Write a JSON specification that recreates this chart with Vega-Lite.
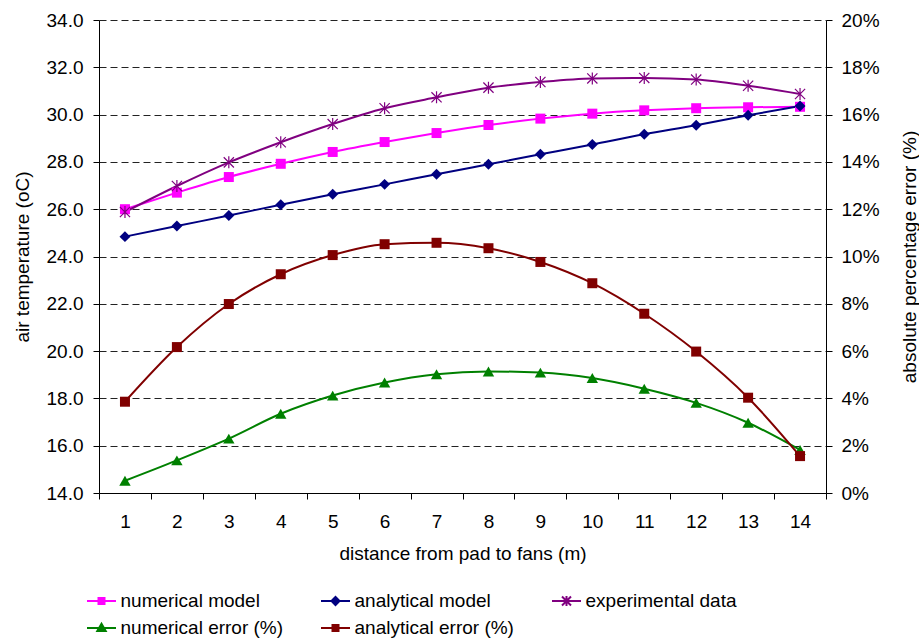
{
  "$schema": "https://vega.github.io/schema/vega-lite/v6.json",
  "width": 727,
  "height": 473,
  "autosize": {"type": "none"},
  "padding": {"left": 99, "top": 20, "right": 93, "bottom": 146},
  "background": "white",
  "config": {
    "view": {"stroke": null},
    "font": "Liberation Sans",
    "axis": {
      "labelFont": "Liberation Sans",
      "titleFont": "Liberation Sans",
      "labelFontSize": 19,
      "titleFontSize": 19,
      "titleFontWeight": "normal",
      "labelColor": "#000",
      "titleColor": "#000",
      "domainColor": "#000",
      "tickColor": "#000",
      "tickSize": 6,
      "domainWidth": 1,
      "tickWidth": 1
    },
    "legend": {
      "labelFont": "Liberation Sans",
      "labelFontSize": 19,
      "labelColor": "#000",
      "labelLimit": 400
    }
  },
  "data": {
    "values": [
      {"x": 1, "numerical model": 26.0, "analytical model": 24.84, "experimental data": 25.88, "numerical error (%)": 0.52, "analytical error (%)": 3.86},
      {"x": 2, "numerical model": 26.7, "analytical model": 25.29, "experimental data": 26.98, "numerical error (%)": 1.38, "analytical error (%)": 6.17},
      {"x": 3, "numerical model": 27.36, "analytical model": 25.73, "experimental data": 27.98, "numerical error (%)": 2.3, "analytical error (%)": 7.99},
      {"x": 4, "numerical model": 27.92, "analytical model": 26.19, "experimental data": 28.83, "numerical error (%)": 3.35, "analytical error (%)": 9.25},
      {"x": 5, "numerical model": 28.42, "analytical model": 26.63, "experimental data": 29.6, "numerical error (%)": 4.12, "analytical error (%)": 10.06},
      {"x": 6, "numerical model": 28.84, "analytical model": 27.05, "experimental data": 30.27, "numerical error (%)": 4.67, "analytical error (%)": 10.52},
      {"x": 7, "numerical model": 29.22, "analytical model": 27.48, "experimental data": 30.73, "numerical error (%)": 5.02, "analytical error (%)": 10.58},
      {"x": 8, "numerical model": 29.56, "analytical model": 27.9, "experimental data": 31.14, "numerical error (%)": 5.14, "analytical error (%)": 10.35},
      {"x": 9, "numerical model": 29.83, "analytical model": 28.32, "experimental data": 31.38, "numerical error (%)": 5.09, "analytical error (%)": 9.77},
      {"x": 10, "numerical model": 30.04, "analytical model": 28.74, "experimental data": 31.53, "numerical error (%)": 4.86, "analytical error (%)": 8.87},
      {"x": 11, "numerical model": 30.18, "analytical model": 29.17, "experimental data": 31.55, "numerical error (%)": 4.41, "analytical error (%)": 7.58},
      {"x": 12, "numerical model": 30.27, "analytical model": 29.55, "experimental data": 31.48, "numerical error (%)": 3.81, "analytical error (%)": 5.98},
      {"x": 13, "numerical model": 30.31, "analytical model": 29.97, "experimental data": 31.22, "numerical error (%)": 2.97, "analytical error (%)": 4.03},
      {"x": 14, "numerical model": 30.33, "analytical model": 30.36, "experimental data": 30.87, "numerical error (%)": 1.82, "analytical error (%)": 1.56}
    ]
  },
  "encoding": {
    "x": {
      "field": "x",
      "type": "ordinal",
      "scale": {"type": "band", "paddingInner": 0, "paddingOuter": 0},
      "axis": {
        "title": "distance from pad to fans (m)",
        "labelAngle": 0,
        "tickBand": "extent",
        "grid": false,
        "labelPadding": 13,
        "titlePadding": 13
      }
    }
  },
  "layer": [
    {
      "transform": [
        {"fold": ["numerical model", "analytical model", "experimental data"], "as": ["series", "value"]}
      ],
      "encoding": {
        "y": {
          "field": "value",
          "type": "quantitative",
          "scale": {"domain": [14, 34], "nice": false, "zero": false},
          "axis": {
            "title": "air temperature (oC)",
            "orient": "left",
            "values": [14, 16, 18, 20, 22, 24, 26, 28, 30, 32, 34],
            "format": ".1f",
            "labelPadding": 10,
            "titlePadding": 14,
            "grid": true,
            "gridColor": "#222",
            "gridDash": [7, 4],
            "gridWidth": 1
          }
        },
        "color": {
          "field": "series",
          "type": "nominal",
          "scale": {
            "domain": ["numerical model", "analytical model", "experimental data", "numerical error (%)", "analytical error (%)"],
            "range": ["#FF00FF", "#000080", "#800080", "#008000", "#800000"]
          },
          "legend": {
            "title": null,
            "orient": "none",
            "legendX": -8.5,
            "legendY": 570,
            "direction": "horizontal",
            "columns": 3,
            "columnPadding": 33,
            "rowPadding": 6,
            "padding": 0,
            "symbolSize": 400,
            "labelOffset": 8,
            "encode": {
              "symbols": {
                "update": {
                  "shape": {"signal": "datum.value === 'numerical model' || datum.value === 'analytical error (%)' ? 'M-1.45,0H1.45M-0.3,-0.3H0.3V0.3H-0.3Z' : datum.value === 'analytical model' ? 'M-1.45,0H1.45M-0.4,0L0,-0.4L0.4,0L0,0.4Z' : datum.value === 'experimental data' ? 'M-1.45,0H1.45M0,-0.5V0.5M-0.45,-0.45L0.45,0.45M-0.45,0.45L0.45,-0.45' : 'M-1.45,0H1.45M-0.42,0.3L0,-0.42L0.42,0.3Z'"},
                  "fill": {"signal": "scale('color', datum.value)"},
                  "stroke": {"signal": "scale('color', datum.value)"},
                  "strokeWidth": {"value": 2},
                  "size": {"value": 400},
                  "opacity": {"value": 1}
                }
              }
            }
          }
        }
      },
      "layer": [
        {"mark": {"type": "line", "interpolate": "monotone", "strokeWidth": 2}},
        {
          "transform": [{"filter": "datum.series === 'numerical model'"}],
          "mark": {"type": "point", "shape": "square", "filled": true, "size": 100, "opacity": 1}
        },
        {
          "transform": [{"filter": "datum.series === 'analytical model'"}],
          "mark": {"type": "point", "shape": "diamond", "filled": true, "size": 120, "opacity": 1}
        },
        {
          "transform": [{"filter": "datum.series === 'experimental data'"}],
          "mark": {"type": "point", "shape": "M0,-1V1M-0.85,-0.85L0.85,0.85M-0.85,0.85L0.85,-0.85", "filled": false, "size": 144, "strokeWidth": 1.2, "opacity": 1}
        }
      ]
    },
    {
      "transform": [
        {"fold": ["numerical error (%)", "analytical error (%)"], "as": ["series", "value"]}
      ],
      "encoding": {
        "y": {
          "field": "value",
          "type": "quantitative",
          "scale": {"domain": [0, 20], "nice": false},
          "axis": {
            "title": "absolute percentage error (%)",
            "orient": "right",
            "values": [0, 2, 4, 6, 8, 10, 12, 14, 16, 18, 20],
            "labelExpr": "datum.value + '%'",
            "labelPadding": 9,
            "titlePadding": 40,
            "titleAngle": 270,
            "grid": false
          }
        },
        "color": {
          "field": "series",
          "type": "nominal",
          "scale": {
            "domain": ["numerical model", "analytical model", "experimental data", "numerical error (%)", "analytical error (%)"],
            "range": ["#FF00FF", "#000080", "#800080", "#008000", "#800000"]
          }
        }
      },
      "layer": [
        {"mark": {"type": "line", "interpolate": "monotone", "strokeWidth": 2}},
        {
          "transform": [{"filter": "datum.series === 'numerical error (%)'"}],
          "mark": {"type": "point", "shape": "triangle-up", "filled": true, "size": 130, "opacity": 1}
        },
        {
          "transform": [{"filter": "datum.series === 'analytical error (%)'"}],
          "mark": {"type": "point", "shape": "square", "filled": true, "size": 100, "opacity": 1}
        }
      ]
    }
  ],
  "resolve": {"scale": {"y": "independent"}}
}
